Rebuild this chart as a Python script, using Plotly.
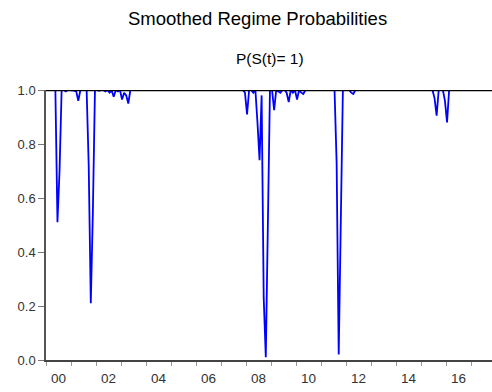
import plotly.graph_objects as go

# Monthly smoothed probabilities P(S(t)=1), Jan 2000 - Dec 2017
p2000 = [1.0, 1.0, 1.0, 1.0, 1.0, 0.51, 0.70, 1.0, 1.0, 0.995, 1.0, 1.0]
p2001 = [1.0, 0.998, 0.995, 0.96, 1.0, 1.0, 0.998, 1.0, 0.72, 0.21, 0.55, 1.0]
p2002 = [1.0, 0.997, 1.0, 1.0, 0.995, 1.0, 0.99, 0.998, 0.975, 1.0, 0.995, 1.0]
p2003 = [0.965, 0.99, 0.98, 0.95, 1.0, 1.0, 1.0, 1.0, 1.0, 1.0, 1.0, 1.0]
p2004 = [1.0, 1.0, 1.0, 1.0, 1.0, 1.0, 1.0, 1.0, 1.0, 1.0, 1.0, 1.0]
p2005 = [1.0, 1.0, 1.0, 1.0, 1.0, 1.0, 1.0, 1.0, 1.0, 1.0, 1.0, 1.0]
p2006 = [1.0, 1.0, 1.0, 1.0, 1.0, 1.0, 1.0, 1.0, 1.0, 1.0, 1.0, 1.0]
p2007 = [1.0, 1.0, 1.0, 1.0, 1.0, 1.0, 1.0, 1.0, 1.0, 1.0, 1.0, 0.99]
p2008 = [0.91, 1.0, 1.0, 0.99, 1.0, 0.88, 0.74, 0.98, 0.23, 0.01, 0.47, 1.0]
p2009 = [1.0, 0.925, 1.0, 0.995, 0.99, 1.0, 1.0, 0.99, 0.955, 1.0, 0.99, 1.0]
p2010 = [0.965, 1.0, 0.99, 0.985, 1.0, 1.0, 1.0, 1.0, 1.0, 1.0, 1.0, 1.0]
p2011 = [1.0, 1.0, 1.0, 1.0, 1.0, 1.0, 1.0, 0.73, 0.02, 0.51, 1.0, 1.0]
p2012 = [1.0, 1.0, 0.99, 0.985, 1.0, 1.0, 1.0, 1.0, 1.0, 1.0, 1.0, 1.0]
p2013 = [1.0, 1.0, 1.0, 1.0, 1.0, 1.0, 1.0, 1.0, 1.0, 1.0, 1.0, 1.0]
p2014 = [1.0, 1.0, 1.0, 1.0, 1.0, 1.0, 1.0, 1.0, 1.0, 1.0, 1.0, 1.0]
p2015 = [1.0, 1.0, 1.0, 1.0, 1.0, 1.0, 0.97, 0.905, 1.0, 1.0, 1.0, 0.96]
p2016 = [0.88, 1.0, 1.0, 1.0, 1.0, 1.0, 1.0, 1.0, 1.0, 1.0, 1.0, 1.0]
p2017 = [1.0, 1.0, 1.0, 1.0, 1.0, 1.0, 1.0, 1.0, 1.0, 1.0, 1.0, 1.0]

years = list(range(2000, 2018))
yearly = [p2000, p2001, p2002, p2003, p2004, p2005, p2006, p2007, p2008,
          p2009, p2010, p2011, p2012, p2013, p2014, p2015, p2016, p2017]

x_label_vals = [2000.5, 2002.5, 2004.5, 2006.5, 2008.5, 2010.5, 2012.5, 2014.5, 2016.5]
x_label_text = ["00", "02", "04", "06", "08", "10", "12", "14", "16"]
y_tick_vals = [0.0, 0.2, 0.4, 0.6, 0.8, 1.0]
y_tick_text = ["0.0", "0.2", "0.4", "0.6", "0.8", "1.0"]

xs, ys = [], []
for yr, vals in zip(years, yearly):
    for m, v in enumerate(vals):
        xs.append(yr + (m + 0.5) / 12.0)
        ys.append(v)

XR = [2000.0, 2017.84]
FONT = "Liberation Sans, Arial, sans-serif"

fig = go.Figure()
fig.add_trace(go.Scatter(x=xs, y=ys, mode="lines",
                         line=dict(color="#0000ff", width=1.8),
                         showlegend=False, hoverinfo="skip"))
fig.add_trace(go.Scatter(x=[XR[0]], y=[0.5], xaxis="x2", mode="none",
                         showlegend=False, hoverinfo="skip"))

fig.update_layout(
    width=492, height=392,
    margin=dict(l=46, r=0, t=90, b=32),
    paper_bgcolor="white", plot_bgcolor="white",
    font=dict(family=FONT, size=12, color="#333333"),
    xaxis=dict(range=XR, tickvals=years, showticklabels=False,
               ticks="outside", ticklen=4, tickwidth=1, tickcolor="#999999",
               showline=True, linecolor="#444444", linewidth=1.5,
               showgrid=False, zeroline=False, fixedrange=True),
    xaxis2=dict(range=XR, overlaying="x", anchor="y", side="bottom",
                tickvals=x_label_vals, ticktext=x_label_text,
                ticks="outside", ticklen=6, tickcolor="rgba(0,0,0,0)",
                showline=False, showgrid=False, zeroline=False,
                tickfont=dict(family=FONT, size=13.5, color="#333333")),
    yaxis=dict(range=[0, 1.0], tickvals=y_tick_vals, ticktext=y_tick_text,
               ticks="outside", ticklen=6, tickwidth=1, tickcolor="#777777",
               showline=True, linecolor="#555555", linewidth=1.5,
               showgrid=False, zeroline=False,
               tickfont=dict(family=FONT, size=13, color="#333333")),
    shapes=[dict(type="line", xref="paper", yref="y", x0=0, x1=1, y0=1.0, y1=1.0,
                 line=dict(color="black", width=2.4), layer="above")],
    annotations=[
        dict(text="Smoothed Regime Probabilities", xref="paper", yref="paper",
             x=(257 - 46) / 446, y=(360 - 18) / 270, xanchor="center", yanchor="middle",
             showarrow=False, font=dict(family=FONT, size=18.5, color="black")),
        dict(text="P(S(t)= 1)", xref="paper", yref="paper",
             x=(270 - 46) / 446, y=(360 - 58) / 270, xanchor="center", yanchor="middle",
             showarrow=False, font=dict(family=FONT, size=15.5, color="black")),
    ],
)

fig.write_html("out.html")
